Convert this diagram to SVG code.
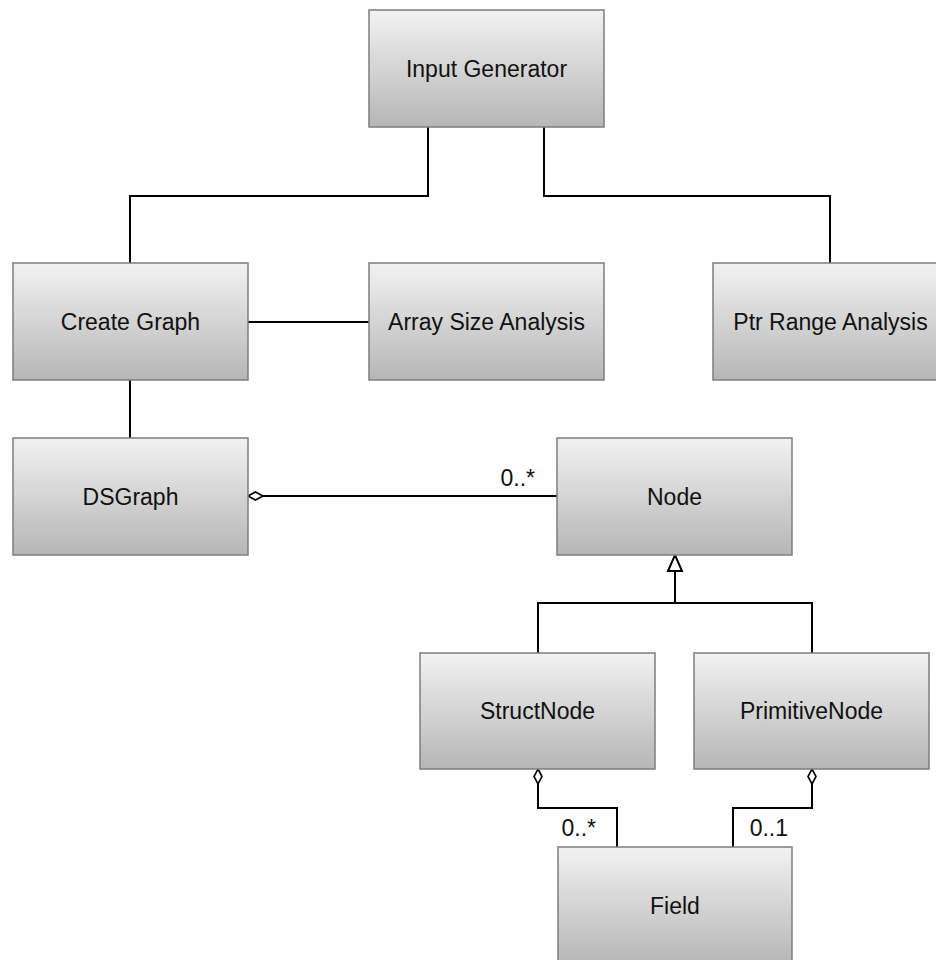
<svg xmlns="http://www.w3.org/2000/svg" width="936" height="960" viewBox="0 0 936 960">
<defs>
<linearGradient id="g" x1="0" y1="0" x2="0" y2="1">
<stop offset="0" stop-color="#f2f2f2"/>
<stop offset="1" stop-color="#b6b6b6"/>
</linearGradient>
<marker id="dia" markerUnits="userSpaceOnUse" markerWidth="18" markerHeight="10" refX="1" refY="5" orient="auto" overflow="visible">
<path d="M1,5 L8.5,1 L16,5 L8.5,9 Z" fill="#fff" stroke="#000" stroke-width="1.6"/>
</marker>
<marker id="tri" markerUnits="userSpaceOnUse" markerWidth="18" markerHeight="18" refX="17" refY="8" orient="auto" overflow="visible">
<path d="M1,1 L17,8 L1,15 Z" fill="#fff" stroke="#000" stroke-width="2"/>
</marker>
<style>
.box{fill:url(#g);stroke:#7d7d7d;stroke-width:1.5}
.lbl{font-family:"Liberation Sans",Arial,sans-serif;font-size:23px;fill:#111}
.c{fill:none;stroke:#000;stroke-width:2}
</style>
</defs>
<rect width="936" height="960" fill="#fff"/>
<g id="connectors">
<path class="c" d="M428,127 V196 H130 V263"/>
<path class="c" d="M544,127 V196 H830 V263"/>
<path class="c" d="M248,322 H369"/>
<path class="c" d="M130,380 V438"/>
<path class="c" d="M248,496 H557" marker-start="url(#dia)"/>
<path class="c" d="M538,653 V603 H812 V653"/>
<path class="c" d="M675,603 V555" marker-end="url(#tri)"/>
<path class="c" d="M538,769 V808 H617 V847" marker-start="url(#dia)"/>
<path class="c" d="M812,769 V808 H733 V847" marker-start="url(#dia)"/>
<text class="lbl" x="535" y="486" text-anchor="end">0..*</text>
<text class="lbl" x="596" y="836" text-anchor="end">0..*</text>
<text class="lbl" x="788" y="836" text-anchor="end">0..1</text>
</g>
<g id="input-generator"><rect class="box" x="369" y="10" width="235" height="117"/><text class="lbl" x="486.5" y="76.5" text-anchor="middle">Input Generator</text></g>
<g id="create-graph"><rect class="box" x="13" y="263" width="235" height="117"/><text class="lbl" x="130.5" y="329.5" text-anchor="middle">Create Graph</text></g>
<g id="array-size-analysis"><rect class="box" x="369" y="263" width="235" height="117"/><text class="lbl" x="486.5" y="329.5" text-anchor="middle">Array Size Analysis</text></g>
<g id="ptr-range-analysis"><rect class="box" x="713" y="263" width="235" height="117"/><text class="lbl" x="830.5" y="329.5" text-anchor="middle">Ptr Range Analysis</text></g>
<g id="dsgraph"><rect class="box" x="13" y="438" width="235" height="117"/><text class="lbl" x="130.5" y="504.5" text-anchor="middle">DSGraph</text></g>
<g id="node"><rect class="box" x="557" y="438" width="235" height="117"/><text class="lbl" x="674.5" y="504.5" text-anchor="middle">Node</text></g>
<g id="structnode"><rect class="box" x="420" y="653" width="235" height="116"/><text class="lbl" x="537.5" y="719" text-anchor="middle">StructNode</text></g>
<g id="primitivenode"><rect class="box" x="694" y="653" width="235" height="116"/><text class="lbl" x="811.5" y="719" text-anchor="middle">PrimitiveNode</text></g>
<g id="field"><rect class="box" x="558" y="847" width="234" height="117"/><text class="lbl" x="675" y="913.5" text-anchor="middle">Field</text></g>
</svg>
